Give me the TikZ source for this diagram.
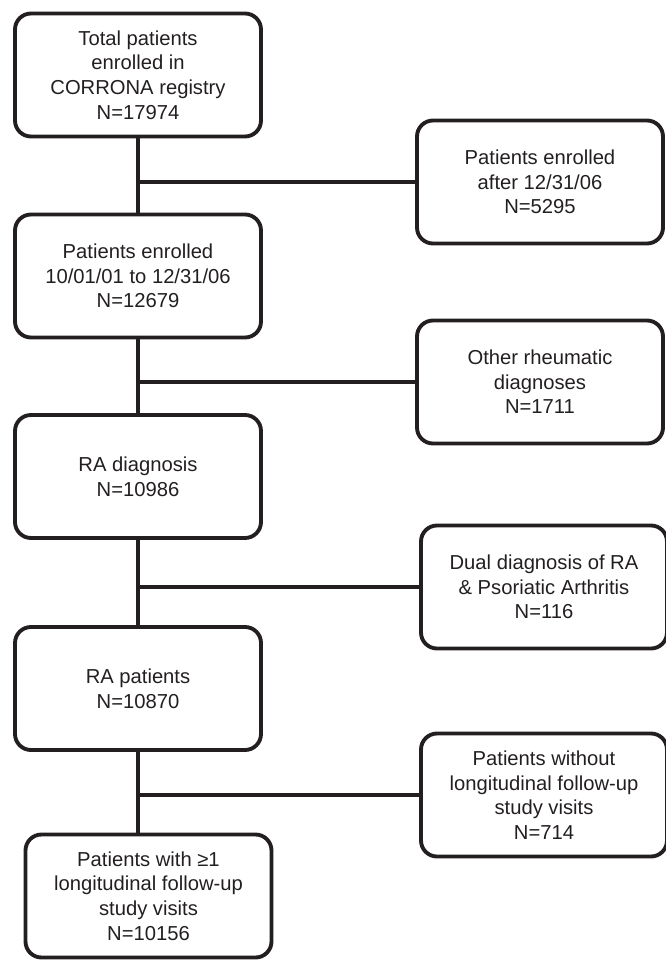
\documentclass[tikz,border=0pt]{standalone}
\usepackage{fontspec}
\setmainfont{Liberation Sans}
\usetikzlibrary{positioning}
\definecolor{ink}{RGB}{35,31,32}

\begin{document}
\begin{tikzpicture}[font=\fontsize{11.5}{14}\selectfont,
 cell/.style={draw=ink,line width=2.2pt,rounded corners=0.32cm,minimum width=4.92cm,minimum height=2.46cm,align=center,text=ink,inner sep=1pt},
 link/.style={draw=ink,line width=1.8pt}]
\useasboundingbox (0,0) rectangle (13.32,-19.2);
\node[cell] (total) at (2.76,-1.5) {Total patients\\enrolled in\\CORRONA registry\\N=17974};
\node[cell] (period) at (2.76,-5.52) {Patients enrolled\\10/01/01 to 12/31/06\\N=12679};
\node[cell] (radiag) at (2.76,-9.53) {RA diagnosis\\N=10986};
\node[cell] (rapat) at (2.76,-13.77) {RA patients\\N=10870};
\node[cell] (visits) at (2.97,-17.92) {Patients with ≥1\\longitudinal follow-up\\study visits\\N=10156};
\node[cell] (after) at (10.8,-3.64) {Patients enrolled\\ after 12/31/06\\N=5295};
\node[cell] (other) at (10.8,-7.64) {Other rheumatic\\diagnoses\\N=1711};
\node[cell] (dual) at (10.88,-11.74) {Dual diagnosis of RA\\\& Psoriatic Arthritis\\N=116};
\node[cell] (nofollow) at (10.88,-15.9) {Patients without\\longitudinal follow-up\\study visits\\N=714};
\draw[link] (total.south) -- (period.north);
\draw[link] (period.south) -- (radiag.north);
\draw[link] (radiag.south) -- (rapat.north);
\draw[link] (rapat.south) -- (rapat.south |- visits.north);
\draw[link] (total.south |- after.west) -- (after.west);
\draw[link] (period.south |- other.west) -- (other.west);
\draw[link] (radiag.south |- dual.west) -- (dual.west);
\draw[link] (rapat.south |- nofollow.west) -- (nofollow.west);
\end{tikzpicture}
\end{document}
